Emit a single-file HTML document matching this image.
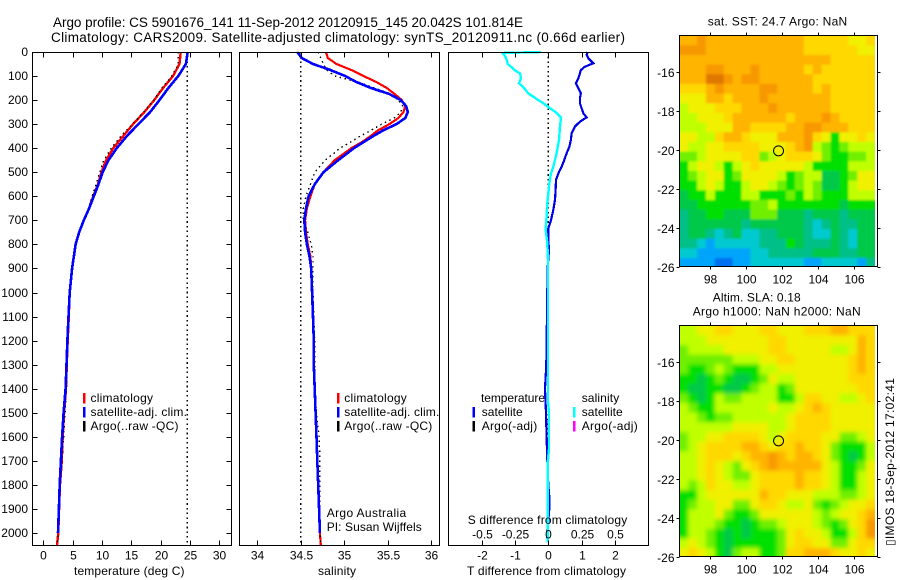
<!DOCTYPE html>
<html>
<head>
<meta charset="utf-8">
<title>Argo profile</title>
<style>
html,body{margin:0;padding:0;background:#fff;width:900px;height:580px;overflow:hidden}
svg{display:block}
text{font-family:"Liberation Sans",sans-serif;font-size:12px;fill:#000}
.ttl{font-size:13.5px}
</style>
</head>
<body>
<svg id="fig" xmlns="http://www.w3.org/2000/svg" width="900" height="580" viewBox="0 0 900 580">
<defs>
<filter id="softSst" x="-6%" y="-6%" width="112%" height="112%"><feGaussianBlur stdDeviation="1.1"/></filter>
<filter id="softSla" x="-6%" y="-6%" width="112%" height="112%"><feGaussianBlur stdDeviation="2.2"/></filter>
<clipPath id="clipSst"><rect x="680" y="36" width="195" height="230"/></clipPath>
<clipPath id="clipSla"><rect x="680" y="326" width="195" height="230"/></clipPath>
</defs>
<text class="ttl" x="53" y="27" textLength="470" lengthAdjust="spacing">Argo profile: CS 5901676_141 11-Sep-2012 20120915_145 20.042S 101.814E</text>
<text class="ttl" x="51" y="42" textLength="574" lengthAdjust="spacing">Climatology: CARS2009. Satellite-adjusted climatology: synTS_20120911.nc (0.66d earlier)</text>
<g id="maps"></g>
<g id="plots"></g>
<g id="axes"></g>

<text x="74" y="575" textLength="110.5" lengthAdjust="spacing">temperature (deg C)</text>
<text x="318" y="575" textLength="38" lengthAdjust="spacing">salinity</text>
<text x="467" y="575" textLength="159" lengthAdjust="spacing">T difference from climatology</text>
<text x="467.7" y="524" textLength="159.5" lengthAdjust="spacing">S difference from climatology</text>

<g>
<rect x="83" y="393" width="2.5" height="10.5" fill="#ff0000"/>
<rect x="83" y="407" width="2.5" height="10.5" fill="#0000ff"/>
<rect x="83" y="421" width="2.5" height="10.5" fill="#000"/>
<text x="90.5" y="402" textLength="62.5" lengthAdjust="spacing">climatology</text>
<text x="90.5" y="416" textLength="96.5" lengthAdjust="spacing">satellite-adj. clim.</text>
<text x="90.5" y="430" textLength="88" lengthAdjust="spacing">Argo(..raw -QC)</text>
</g>
<g>
<rect x="337" y="393" width="2.5" height="10.5" fill="#ff0000"/>
<rect x="337" y="407" width="2.5" height="10.5" fill="#0000ff"/>
<rect x="337" y="421" width="2.5" height="10.5" fill="#000"/>
<text x="344.3" y="402" textLength="62.5" lengthAdjust="spacing">climatology</text>
<text x="344.3" y="416" textLength="95" lengthAdjust="spacing">satellite-adj. clim.</text>
<text x="344.3" y="430" textLength="88" lengthAdjust="spacing">Argo(..raw -QC)</text>
<text x="326.7" y="517" textLength="79.5" lengthAdjust="spacing">Argo Australia</text>
<text x="326.7" y="531" textLength="95" lengthAdjust="spacing">PI: Susan Wijffels</text>
</g>
<g>
<rect x="472.5" y="407" width="2.5" height="10.5" fill="#0000ff"/>
<rect x="472.5" y="421" width="2.5" height="10.5" fill="#000"/>
<rect x="573" y="407" width="2.5" height="10.5" fill="#00ffff"/>
<rect x="573" y="421" width="2.5" height="10.5" fill="#ff00ff"/>
<text x="481" y="402" textLength="64" lengthAdjust="spacing">temperature</text>
<text x="481.7" y="416" textLength="41" lengthAdjust="spacing">satellite</text>
<text x="481.7" y="430" textLength="55.5" lengthAdjust="spacing">Argo(-adj)</text>
<text x="581.7" y="402" textLength="37.5" lengthAdjust="spacing">salinity</text>
<text x="581.7" y="416" textLength="41" lengthAdjust="spacing">satellite</text>
<text x="581.7" y="430" textLength="56" lengthAdjust="spacing">Argo(-adj)</text>
</g>

<text x="707.7" y="25.7" textLength="139.5" lengthAdjust="spacing">sat. SST: 24.7 Argo: NaN</text>
<text x="712.7" y="301.7" textLength="88" lengthAdjust="spacing">Altim. SLA: 0.18</text>
<text x="692.7" y="315.7" textLength="168" lengthAdjust="spacing">Argo h1000: NaN h2000: NaN</text>
<text transform="translate(894,546) rotate(-90)" x="0" y="0" textLength="168" lengthAdjust="spacing">▯IMOS 18-Sep-2012 17:02:41</text>
</svg>

<script>
// ---------- profile data ----------
const tempDepths = [0,50,100,150,200,250,300,350,400,450,500,550,600,650,700,750,800,900,1000,1100,1200,1300,1400,1500,1600,1700,1800,1900,2000,2050];
const tempClim = [23.4,23.2,22.1,20.4,18.9,17.2,15.3,13.6,11.9,10.7,9.9,9.3,8.5,7.8,6.9,6.1,5.5,4.9,4.5,4.35,4.15,4.0,3.87,3.55,3.3,3.15,2.85,2.7,2.55,2.33];
const tempSat = [24.6,24.3,23.0,21.3,19.8,18.2,16.2,14.2,12.5,11.1,10.1,9.4,8.6,7.8,6.9,6.1,5.5,4.9,4.5,4.3,4.1,3.95,3.8,3.45,3.2,3.0,2.8,2.65,2.5];
const tempArgo = [23.0,23.0,21.9,20.2,18.8,17.1,15.2,13.2,11.6,10.3,9.6,9.0,8.3,7.7,6.8,6.0,5.5,4.9,4.5,4.4,4.2,4.05,3.95,3.7,3.45,3.2,2.9,2.7,2.55,2.4];
const satSST = [24.5];

const salDepths = [0,25,50,75,100,125,150,175,200,225,250,275,300,325,350,375,400,450,500,550,600,650,700,750,800,850,900,1000,1100,1200,1300,1400,1500,1600,1700,1800,1900,2000,2050];
const salClim = [34.79,34.81,34.91,35.08,35.22,35.37,35.49,35.58,35.66,35.70,35.68,35.62,35.52,35.39,35.30,35.20,35.08,34.89,34.76,34.66,34.61,34.57,34.55,34.56,34.58,34.61,34.62,34.63,34.64,34.65,34.65,34.66,34.67,34.68,34.69,34.70,34.71,34.72,34.73];
const salSat = [34.46,34.51,34.64,34.84,35.01,35.14,35.31,35.52,35.65,35.71,35.73,35.70,35.60,35.45,35.33,35.22,35.11,34.93,34.76,34.66,34.59,34.56,34.54,34.55,34.57,34.60,34.62,34.63,34.64,34.65,34.65,34.66,34.67,34.68,34.69,34.70,34.71,34.72];
const salArgo = [34.70,34.73,34.76,34.80,34.89,35.16,35.35,35.54,35.62,35.67,35.65,35.57,35.43,35.31,35.18,35.07,34.95,34.78,34.66,34.61,34.56,34.53,34.53,34.58,34.62,34.64,34.64,34.64,34.65,34.66,34.66,34.66,34.68,34.71,34.72,34.72,34.72,34.72,34.73];
const salRef = [34.5];

const dtDepths = [0,12,26,47,61,75,89,109,130,151,172,193,213,234,255,272,290,310,338,366,394,421,449,477,498,532,574,615,657,699,733,782,823,900,1000,1100,1200,1300,1400,1500,1600,1700,1800,1850,1900,1950,2000,2040];
const dtSat = [1.18,1.15,1.20,1.35,1.10,0.98,0.95,0.90,0.83,0.90,0.98,0.95,0.95,1.0,1.05,1.15,0.95,0.80,0.70,0.68,0.63,0.55,0.48,0.40,0.32,0.23,0.22,0.20,0.15,0.08,0,0,0.02,-0.02,-0.03,-0.04,-0.05,-0.06,-0.10,-0.07,-0.05,-0.03,0,0.03,0.03,0,-0.04,-0.02];
const dsDepths = [0,4,12,33,50,61,75,89,109,130,151,172,186,200,213,234,248,272,310,366,421,477,505,546,588,629,685,740,782,823,865,900,1300,1450,1500,1650,1700,2040];
const dsSat = [-0.055,-0.345,-0.33,-0.3125,-0.305,-0.28,-0.255,-0.2125,-0.205,-0.22,-0.18,-0.15,-0.1125,-0.075,-0.0375,0.0125,0.05,0.095,0.0875,0.08,0.0625,0.0375,0.02,0.0075,0,-0.0075,-0.0125,-0.02,-0.01,-0.005,-0.0025,-0.002,-0.002,-0.002,0.005,0.005,-0.003,-0.003];

// ---------- tick labels ----------
const depthTicks = [0,100,200,300,400,500,600,700,800,900,1000,1100,1200,1300,1400,1500,1600,1700,1800,1900,2000];
const tempTicks = [0,5,10,15,20,25,30];
const salTicks = [34,34.5,35,35.5,36];
const dtTicks = [-2,-1,0,1,2];
const dsTicks = [-0.5,-0.25,0,0.25,0.5];
const lonTicks = [98,100,102,104,106];
const latTicks = [-16,-18,-20,-22,-24,-26];
const argoPosition = [101.814,-20.042];

// ---------- map grids (colour level per cell, north to south) ----------
const sstGrid = [
[10,10,11,10,10,10,10,10,10,10,10,10,10,10,9,9,9,9,9,8,8,9],
[11,11,11,10,10,10,10,10,10,10,10,10,10,10,9,9,9,9,9,9,8,8],
[10,10,10,10,10,10,10,10,10,10,10,10,10,10,10,10,10,9,9,9,9,9],
[10,10,10,11,11,10,10,10,11,10,10,10,10,10,9,10,9,9,9,9,9,9],
[10,10,10,12,12,11,10,11,11,10,10,10,10,10,10,9,9,9,9,9,9,9],
[9,9,9,10,11,10,10,10,10,11,11,10,10,10,10,9,10,9,9,9,9,9],
[8,8,8,10,10,9,10,10,10,11,10,10,10,10,10,10,10,9,9,9,9,9],
[7,8,8,8,9,9,9,10,10,10,11,10,10,10,10,10,10,9,9,9,9,9],
[7,7,8,8,8,9,10,10,10,10,10,10,9,10,10,10,11,10,9,9,9,9],
[7,7,7,8,8,8,10,10,9,9,9,9,10,10,11,11,10,10,10,9,9,9],
[8,8,7,7,9,10,10,9,8,8,8,10,10,10,11,9,8,5,8,8,9,8],
[8,7,7,8,8,9,9,9,9,8,8,8,9,10,11,7,6,5,6,7,7,7],
[6,6,7,8,8,8,8,9,9,6,7,8,9,9,9,8,6,5,5,6,6,7],
[5,7,8,8,7,5,7,8,9,8,8,8,8,8,7,5,5,5,5,7,7,7],
[5,6,7,8,8,5,6,8,8,8,8,7,5,6,7,7,4,4,5,6,8,8],
[5,5,7,8,7,5,5,7,8,8,7,6,5,6,7,6,4,4,5,7,8,8],
[4,5,5,7,5,5,5,7,7,5,5,5,6,5,7,6,5,5,5,7,7,7],
[4,4,5,5,5,5,5,5,6,6,7,5,5,5,5,5,5,5,4,5,5,5],
[3,4,4,5,5,4,4,4,6,6,6,4,4,4,3,4,4,4,3,4,4,4],
[3,4,4,4,4,4,4,3,4,4,4,4,4,4,3,2,3,4,3,3,4,4],
[3,4,4,3,2,3,4,2,2,3,3,4,4,4,3,2,2,4,3,2,4,4],
[3,3,2,1,2,2,2,2,2,3,3,3,5,4,3,3,3,4,3,2,4,4],
[2,2,1,1,1,1,1,1,2,2,3,3,3,3,3,4,4,4,3,3,4,4],
[1,1,1,1,0,0,1,1,2,2,2,2,2,2,1,1,2,2,2,2,1,3]
];
const slaGrid = [
[7,7,8,8,9,9,8,8,8,9,9,8,8,8,9,9,9,10,10,9,9,9],
[7,7,7,8,8,8,8,8,8,8,9,9,8,8,8,8,8,8,8,8,10,9],
[6,7,7,7,7,8,8,8,8,8,9,9,8,8,8,8,8,7,7,8,10,9],
[6,6,6,6,6,6,7,7,7,8,8,9,9,8,8,8,8,8,8,9,10,9],
[6,5,5,6,7,6,5,5,5,7,7,8,8,8,8,8,8,8,8,9,10,9],
[5,5,4,5,6,5,4,4,5,6,8,7,7,8,8,8,8,8,8,9,9,9],
[5,4,4,5,5,4,4,5,6,7,7,5,6,8,8,8,8,8,8,8,9,9],
[6,5,4,5,7,6,6,7,7,7,7,5,5,7,9,9,8,8,7,7,8,9],
[7,6,5,5,7,7,7,7,7,7,8,7,7,8,9,10,9,8,8,8,8,8],
[7,7,6,5,6,6,7,7,7,7,7,7,8,9,9,9,9,8,8,8,8,8],
[7,7,7,7,7,7,8,8,8,8,7,7,8,9,9,9,9,8,8,8,8,8],
[6,7,7,8,8,9,9,9,9,8,7,8,9,9,9,9,8,8,6,6,7,8],
[6,7,8,9,9,9,9,10,10,9,8,9,9,10,9,9,8,6,5,5,5,7],
[7,7,8,9,9,9,8,9,10,10,11,10,9,10,10,9,8,6,5,4,5,7],
[7,7,8,9,8,7,6,8,9,10,11,10,10,10,10,10,8,7,5,5,6,8],
[7,7,8,9,8,7,6,6,8,9,9,9,9,10,9,9,8,7,5,5,7,8],
[7,6,7,9,8,8,7,7,8,9,9,9,9,10,9,9,8,7,5,5,7,8],
[5,5,7,8,8,8,8,8,8,10,9,9,8,8,8,7,7,7,6,6,7,8],
[5,6,7,7,8,8,6,6,8,9,9,8,7,7,8,6,5,6,7,8,8,9],
[5,7,7,7,8,6,5,5,6,8,8,8,8,8,8,7,6,7,8,8,9,10],
[5,7,7,7,6,5,5,4,5,6,6,7,8,8,8,7,6,5,6,8,9,11],
[5,7,7,6,5,4,5,4,5,5,5,6,8,9,8,8,7,5,5,7,9,11],
[7,8,7,6,5,4,5,5,5,5,5,6,8,9,9,8,8,6,6,8,9,9],
[8,9,8,7,5,4,6,7,7,5,5,6,9,9,10,10,10,9,8,8,9,8]
];
const levelColors = ['#0070f0','#00a4fa','#00cad0','#00c088','#00c848','#00e000','#70f000','#c0ff00','#f0f000','#ffd800','#ffb400','#f89800','#e07800'];

// ---------- scales ----------
const NS = 'http://www.w3.org/2000/svg';
const depthY = d => 52 + 0.2405 * d;
const tempX = v => 43.3 + 5.87 * v;
const salX = v => 257.3 + 87 * v;
const dtX = v => 548.3 + 33.3 * v;
const dsX = v => dtX(v * 4);
const lonX = v => 745.7 + 18.1 * (v - 100);
const sstLatY = v => 72.3 + 19.43 * (-16 - v);
const slaLatY = v => 362.3 + 19.44 * (-16 - v);

const plots = document.getElementById('plots');
const axes = document.getElementById('axes');
const maps = document.getElementById('maps');

function svgEl(tag, attrs, parent) {
  const el = document.createElementNS(NS, tag);
  for (const k in attrs) el.setAttribute(k, attrs[k]);
  parent.appendChild(el);
  return el;
}
function profileLine(depths, values, xf, color, width, dash, name) {
  const pts = values.map((v, i) => xf(v).toFixed(1) + ',' + depthY(depths[i]).toFixed(1)).join(' ');
  const a = {points: pts, fill: 'none', stroke: color, 'stroke-width': width, 'shape-rendering': 'crispEdges'};
  if (dash) a['stroke-dasharray'] = dash;
  const el = svgEl('polyline', a, plots);
  
  
}
function refLine(x, name) {
  const el = svgEl('line', {x1: x, x2: x, y1: 52, y2: 545, stroke: '#000', 'stroke-width': 1.4, 'stroke-dasharray': '1.6 3.1', 'shape-rendering': 'crispEdges'}, plots);
  
  
}
function tickLine(x1, y1, x2, y2) {
  const el = svgEl('line', {x1, y1, x2, y2, stroke: '#000', 'stroke-width': 1, 'shape-rendering': 'crispEdges'}, axes);
  
  
}
function label(str, x, y, anchor) {
  const el = svgEl('text', {x, y, 'text-anchor': anchor}, axes);
  el.textContent = str;
  
  
}
function frame(x0, y0, x1, y1, name) {
  const el = svgEl('rect', {x: x0, y: y0, width: x1 - x0, height: y1 - y0, fill: 'none', stroke: '#000', 'stroke-width': 1.2, 'shape-rendering': 'crispEdges'}, axes);
  
  
}
const snap = v => Math.round(v) + 0.5;

// ---------- profile panels ----------
refLine(tempX(satSST[0]), 'sst-reference-line');
profileLine(tempDepths, tempClim, tempX, '#ff0000', 2.4, null, 'temperature-climatology-line');
profileLine(tempDepths, tempArgo, tempX, '#000', 1.4, '1.5 3.5', 'temperature-argo-line');
profileLine(tempDepths, tempSat, tempX, '#0000ff', 2.6, null, 'temperature-satellite-line');

refLine(salX(salRef[0] - 34), 'salinity-reference-line');
profileLine(salDepths, salClim, v => salX(v - 34), '#ff0000', 2.2, null, 'salinity-climatology-line');
profileLine(salDepths, salArgo, v => salX(v - 34), '#000', 1.4, '1.5 3.5', 'salinity-argo-line');
profileLine(salDepths, salSat, v => salX(v - 34), '#0000ff', 2.6, null, 'salinity-satellite-line');

refLine(dtX(0), 'zero-difference-line');
profileLine(dtDepths, dtSat, dtX, '#0000e6', 2.2, null, 'temperature-difference-line');
profileLine(dsDepths, dsSat, dsX, '#00ffff', 2.4, null, 'salinity-difference-line');

// ---------- axes ----------
const panelT = 52.5, panelB = 545.5;
frame(32.5, panelT, 231.5, panelB, 'temperature-axes-box');
frame(239.5, panelT, 439.5, panelB, 'salinity-axes-box');
frame(448.5, panelT, 648.5, panelB, 'difference-axes-box');

depthTicks.forEach(d => {
  const y = snap(depthY(d));
  tickLine(32.5, y, 37.5, y);
  tickLine(226.5, y, 231.5, y);
  label(String(d), 28, y + 3.5, 'end');
});
tempTicks.forEach(v => {
  const x = snap(tempX(v));
  tickLine(x, panelT, x, panelT + 5);
  tickLine(x, panelB - 5, x, panelB);
  label(String(v), x, 559.5, 'middle');
});
salTicks.forEach(v => {
  const x = snap(salX(v - 34));
  tickLine(x, panelT, x, panelT + 5);
  tickLine(x, panelB - 5, x, panelB);
  label(String(v), x, 559.5, 'middle');
});
dtTicks.forEach(v => {
  const x = snap(dtX(v));
  tickLine(x, panelT, x, panelT + 5);
  tickLine(x, panelB - 5, x, panelB);
  label(String(v), x, 559.5, 'middle');
});
dsTicks.forEach(v => {
  const x = snap(dsX(v));
  label(String(v), x, 538.7, 'middle');
});

// ---------- maps ----------
const lonStart = 96.33, lonStep = 0.4915;
function drawMap(grid, latY, latTop, latStep, boxT, boxB, labelY, name, clipId, filterId) {
  const clipGroup = svgEl('g', {'clip-path': 'url(#' + clipId + ')'}, maps);
  
  
  const softGroup = svgEl('g', {filter: 'url(#' + filterId + ')'}, clipGroup);
  
  
  const rows = grid.length;
  grid.forEach((row, r) => {
    const cols = row.length;
    row.forEach((lev, c) => {
      let x0 = lonX(lonStart + c * lonStep), x1 = lonX(lonStart + (c + 1) * lonStep);
      let y0 = latY(latTop - r * latStep), y1 = latY(latTop - (r + 1) * latStep);
      if (c === 0) x0 -= 8;
      if (c === cols - 1) x1 += 8;
      if (r === 0) y0 -= 8;
      if (r === rows - 1) y1 += 8;
      const cell = svgEl('rect', {x: x0.toFixed(2), y: y0.toFixed(2), width: (x1 - x0 + 0.4).toFixed(2), height: (y1 - y0 + 0.4).toFixed(2), fill: levelColors[lev]}, softGroup);
      
      
    });
  });
  frame(679.5, boxT, 877.5, boxB, name + '-map-box');
  lonTicks.forEach(v => {
    const x = snap(lonX(v));
    tickLine(x, boxT - 3, x, boxT);
    tickLine(x, boxB, x, boxB + 3);
    label(String(v), x, labelY, 'middle');
  });
  latTicks.forEach(v => {
    const y = snap(latY(v));
    tickLine(676.5, y, 679.5, y);
    tickLine(877.5, y, 880.5, y);
    label(String(v), 674.5, y + 4.5, 'end');
  });
  const mark = svgEl('circle', {cx: lonX(argoPosition[0]), cy: latY(argoPosition[1]), r: 5, fill: 'none', stroke: '#000', 'stroke-width': 1}, axes);
  
  
}
drawMap(sstGrid, sstLatY, -14.11, 0.4977, 35.5, 266.5, 283.5, 'sst', 'clipSst', 'softSst');
drawMap(slaGrid, slaLatY, -14.11, 0.4977, 325.5, 556.5, 573.5, 'sla', 'clipSla', 'softSla');
</script>
</body>
</html>
